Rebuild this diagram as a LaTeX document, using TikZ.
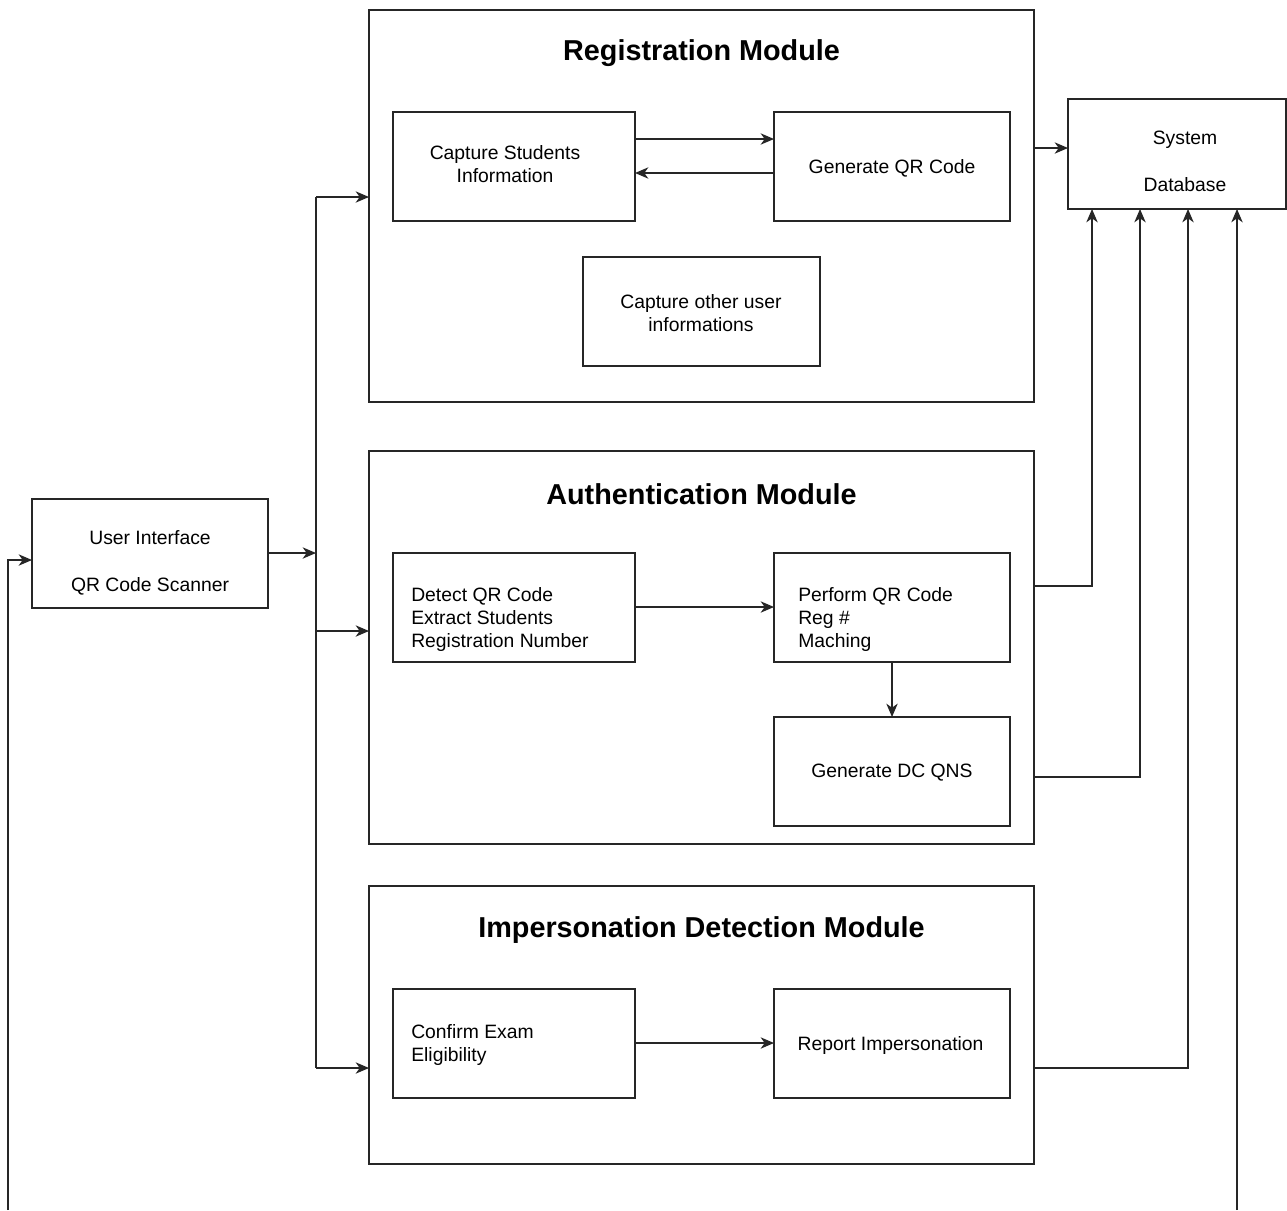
\documentclass[tikz,border=0pt]{standalone}
\usepackage{fontspec}
\setmainfont{Liberation Sans}
\usetikzlibrary{arrows.meta}

\tikzset{
  box/.style={draw=black!85, line width=1.1pt, rectangle, inner sep=0pt, outer sep=0pt, anchor=north west},
  txt/.style={font=\fontsize{14.5}{17.5}\selectfont, align=center, inner sep=0pt},
  ltxt/.style={font=\fontsize{14.5}{17.5}\selectfont, align=left, inner sep=0pt, anchor=west},
  modtitle/.style={font=\fontsize{21.6}{26}\selectfont\bfseries, inner sep=0pt},
  wire/.style={draw=black!85, line width=1.1pt},
  arr/.style={wire, -{Stealth[length=10pt, width=8.5pt, inset=3pt]}},
}

\begin{document}
\begin{tikzpicture}[x=0.75pt, y=-0.75pt]
\useasboundingbox (0,0) rectangle (1287,1210);

% ---- module frames ----
\node[box, minimum width=498.75pt, minimum height=294pt]   (reg)  at (369,10)  {};
\node[box, minimum width=498.75pt, minimum height=294.75pt] (auth) at (369,451) {};
\node[box, minimum width=498.75pt, minimum height=208.5pt] (imp)  at (369,886) {};

\node[modtitle] (regT)  at (701.5,53.5)  {Registration Module};
\node[modtitle] (authT) at (701.5,494.5) {Authentication Module};
\node[modtitle] (impT)  at (701.5,930.5) {Impersonation Detection Module};

% ---- registration module ----
\node[box, minimum width=181.5pt, minimum height=81.75pt] (cap) at (393,112) {};
\node[txt] (capT) at (505,164) {Capture Students\\Information};
\node[box, minimum width=177pt, minimum height=81.75pt] (gen) at (774,112) {};
\node[txt] (genT) at (892,168) {Generate QR Code};
\node[box, minimum width=177.75pt, minimum height=81.75pt] (oth) at (583,257) {};
\node[txt] (othT) at (701,313) {Capture other user\\informations};

% ---- authentication module ----
\node[box, minimum width=181.5pt, minimum height=81.75pt] (det) at (393,553) {};
\node[ltxt] (detT) at (411,619.5) {Detect QR Code\\Extract Students\\Registration Number};
\node[box, minimum width=177pt, minimum height=81.75pt] (perf) at (774,553) {};
\node[ltxt] (perfT) at (798,619.5) {Perform QR Code\\Reg \#\\Maching};
\node[box, minimum width=177pt, minimum height=81.75pt] (dc) at (774,717) {};
\node[txt] (dcT) at (892,773) {Generate DC QNS};

% ---- impersonation detection module ----
\node[box, minimum width=181.5pt, minimum height=81.75pt] (conf) at (393,989) {};
\node[ltxt] (confT) at (411,1045) {Confirm Exam\\Eligibility};
\node[box, minimum width=177pt, minimum height=81.75pt] (rep) at (774,989) {};
\node[txt] (repT) at (890.5,1045) {Report Impersonation};

% ---- external blocks ----
\node[box, minimum width=177pt, minimum height=81.75pt] (ui) at (32,499) {};
\node[txt] (uiT) at (150,562.5) {User Interface\\[17.5pt]QR Code Scanner};
\node[box, minimum width=163.5pt, minimum height=82.5pt] (db) at (1068,99) {};
\node[txt] (dbT) at (1185,161.5) {System\\[17.5pt]Database};

% ---- internal flows ----
\draw[arr] (cap.east |- 0,139) -- (gen.west |- 0,139);
\draw[arr] (gen.west |- 0,173) -- (cap.east |- 0,173);
\draw[arr] (det.east |- 0,607) -- (perf.west |- 0,607);
\draw[arr] (perf.south) -- (dc.north);
\draw[arr] (conf.east |- 0,1043) -- (rep.west |- 0,1043);

% ---- distribution bus from the user interface ----
\coordinate (busTop)  at (316,197);
\coordinate (busUI)   at (316,553);
\coordinate (busAuth) at (316,631);
\coordinate (busBot)  at (316,1068);
\draw[wire] (busTop) -- (busBot);
\draw[arr] (ui.east |- busUI) -- (busUI);
\draw[arr] (busTop) -- (reg.west |- busTop);
\draw[arr] (busAuth) -- (auth.west |- busAuth);
\draw[arr] (busBot) -- (imp.west |- busBot);

% ---- links to the database ----
\draw[arr] (reg.east |- 0,148) -- (db.west |- 0,148);
\draw[arr] (auth.east |- 0,586) -| (db.south -| 1092,0);
\draw[arr] (auth.east |- 0,777) -| (db.south -| 1140,0);
\draw[arr] (imp.east |- 0,1068) -| (db.south -| 1188,0);

% ---- return lines leaving the page ----
\coordinate (leftEnd)  at (8,1210);
\coordinate (rightEnd) at (1237,1210);
\draw[arr] (leftEnd) |- (ui.west |- 0,560);
\draw[arr] (rightEnd) -- (db.south -| rightEnd);
\end{tikzpicture}
\end{document}
